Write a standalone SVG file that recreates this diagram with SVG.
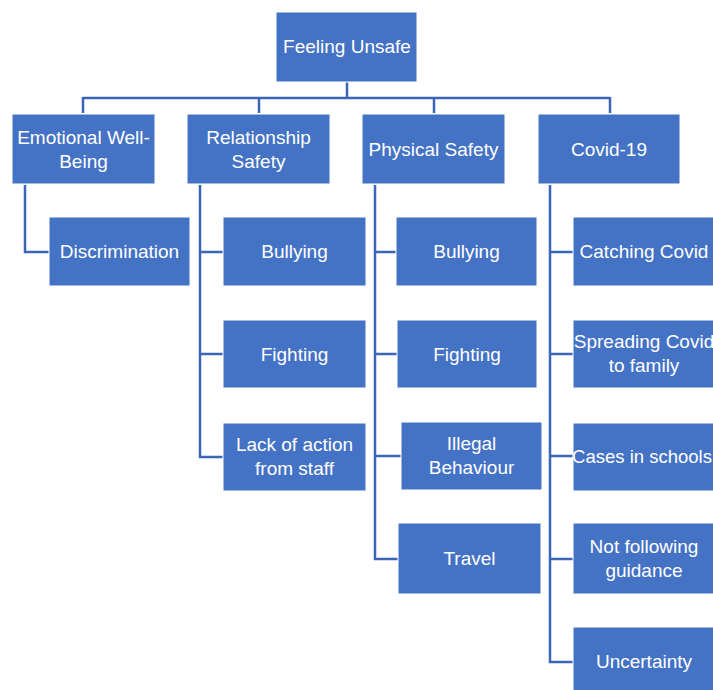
<svg xmlns="http://www.w3.org/2000/svg" width="713" height="690" viewBox="0 0 713 690">
<style>
.box{fill:#4472C4;stroke:#ffffff;stroke-width:1}
.lbl{fill:#ffffff;font-family:"Liberation Sans",Arial,sans-serif;font-size:19px;text-anchor:middle}
.conn{fill:none;stroke:#3C66B5;stroke-width:2.5}
</style>
<rect width="713" height="690" fill="#ffffff"/>
<g id="connectors" class="conn">
<path d="M347 81V98M83 98H610M83 97V113M259 97V113M434 97V113M610 97V113"/>
<path d="M25 185V252H49"/>
<path d="M200 185V457H223M200 252H223M200 354H223"/>
<path d="M375 185V559H398M375 252H396M375 354H397M375 456H401"/>
<path d="M550 185V662H573M550 252H573M550 354H573M550 456H573M550 559H573"/>
</g>
<g id="root"><rect class="box" x="276" y="12" width="141" height="70"/><text class="lbl" x="347" y="53">Feeling Unsafe</text></g>
<g id="emotional"><rect class="box" x="12" y="114" width="143" height="70"/><text class="lbl" x="83.5" y="144">Emotional Well-</text><text class="lbl" x="83.5" y="168">Being</text></g>
<g id="relationship"><rect class="box" x="187" y="114" width="143" height="70"/><text class="lbl" x="258.5" y="144">Relationship</text><text class="lbl" x="258.5" y="168">Safety</text></g>
<g id="physical"><rect class="box" x="362" y="114" width="143" height="70"/><text class="lbl" x="433.5" y="156">Physical Safety</text></g>
<g id="covid"><rect class="box" x="538" y="114" width="142" height="70"/><text class="lbl" x="609" y="156">Covid-19</text></g>
<g id="discrimination"><rect class="box" x="49" y="217" width="141" height="69"/><text class="lbl" x="119.5" y="258">Discrimination</text></g>
<g id="rel-bullying"><rect class="box" x="223" y="217" width="143" height="69"/><text class="lbl" x="294.5" y="258">Bullying</text></g>
<g id="rel-fighting"><rect class="box" x="223" y="320" width="143" height="68"/><text class="lbl" x="294.5" y="361">Fighting</text></g>
<g id="rel-lack"><rect class="box" x="223" y="423" width="143" height="68"/><text class="lbl" x="294.5" y="451">Lack of action</text><text class="lbl" x="294.5" y="475">from staff</text></g>
<g id="phys-bullying"><rect class="box" x="396" y="217" width="141" height="69"/><text class="lbl" x="466.5" y="258">Bullying</text></g>
<g id="phys-fighting"><rect class="box" x="397" y="320" width="140" height="68"/><text class="lbl" x="467" y="361">Fighting</text></g>
<g id="phys-illegal"><rect class="box" x="401" y="422" width="141" height="68"/><text class="lbl" x="471.5" y="450">Illegal</text><text class="lbl" x="471.5" y="474">Behaviour</text></g>
<g id="phys-travel"><rect class="box" x="398" y="523" width="143" height="71"/><text class="lbl" x="469.5" y="565">Travel</text></g>
<g id="covid-catching"><rect class="box" x="573" y="217" width="143" height="69"/><text class="lbl" x="644" y="258">Catching Covid</text></g>
<g id="covid-spreading"><rect class="box" x="573" y="320" width="143" height="68"/><text class="lbl" x="644" y="348">Spreading Covid</text><text class="lbl" x="644" y="372">to family</text></g>
<g id="covid-cases"><rect class="box" x="573" y="423" width="143" height="68"/><text class="lbl" x="642" y="463" style="font-size:18.5px">Cases in schools</text></g>
<g id="covid-guidance"><rect class="box" x="573" y="523" width="143" height="71"/><text class="lbl" x="644" y="553">Not following</text><text class="lbl" x="644" y="577">guidance</text></g>
<g id="covid-uncertainty"><rect class="box" x="573" y="627" width="143" height="68"/><text class="lbl" x="644" y="668">Uncertainty</text></g>
</svg>
